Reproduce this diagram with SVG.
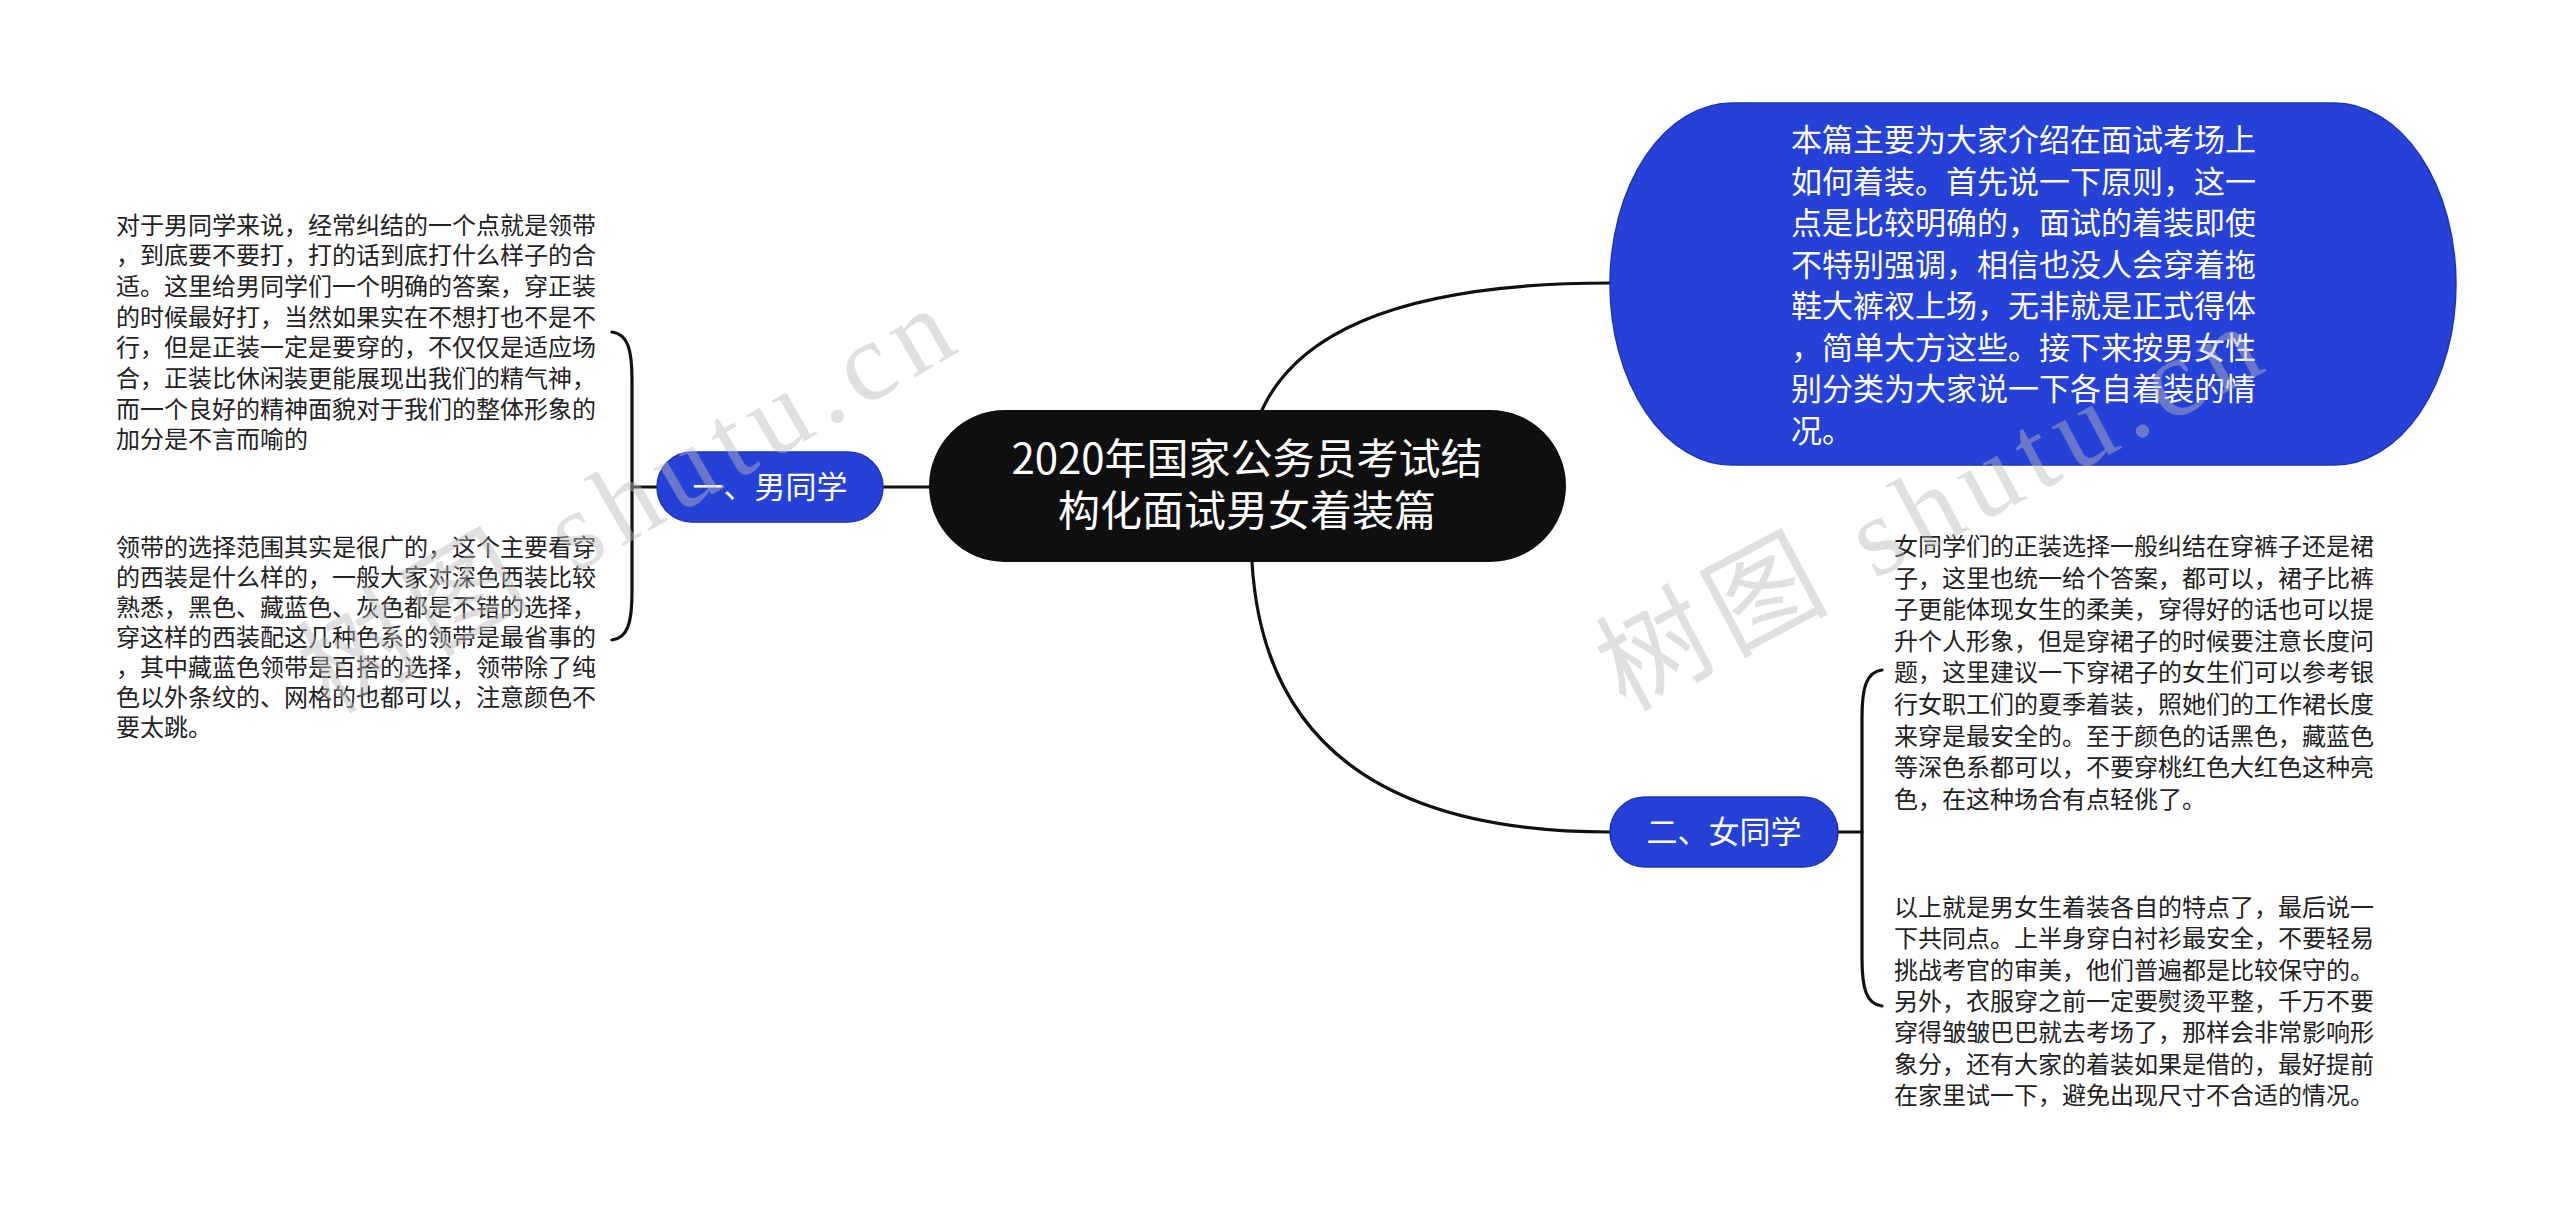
<svg xmlns="http://www.w3.org/2000/svg" width="2560" height="1219" viewBox="0 0 2560 1219">
<style>
.conn{fill:none;stroke:#111;stroke-width:3.2;stroke-linecap:round}
.blue{fill:#2541d8;stroke:#1d34b8;stroke-width:1.5}
.cjk{font-family:"Noto Sans CJK SC","Noto Sans",sans-serif}
.leaf{font-size:24px;fill:#222}
.wt{fill:#fff}
.wm{font-family:"Liberation Serif","Noto Sans CJK SC",serif;font-size:112px;fill:#bbb;fill-opacity:0.45;letter-spacing:10px}
</style>
<rect width="2560" height="1219" fill="#fff"/>
<g id="connectors">
<path class="conn" d="M1262,410 Q1320,283 1610,283"/>
<path class="conn" d="M1252,562 Q1268,832 1610,832"/>
<path class="conn" d="M929,487 L883,487"/>
<path class="conn" d="M657,487 L632,487"/>
<path class="conn" d="M612,332 C628,334 632,350 632,380 L632,592 C632,622 628,638 612,640"/>
<path class="conn" d="M1838,832 L1862,832"/>
<path class="conn" d="M1882,670 C1866,672 1862,688 1862,718 L1862,958 C1862,988 1866,1004 1882,1006"/>
</g>
<g id="root">
<rect x="929" y="410" width="637" height="152" rx="76" ry="76" fill="#0f0f0f"/>
<text class="cjk wt" font-size="42" text-anchor="middle"><tspan x="1247" y="474">2020年国家公务员考试结</tspan><tspan x="1247" y="526">构化面试男女着装篇</tspan></text>
</g>
<g id="intro">
<rect class="blue" x="1610" y="103" width="846" height="362" rx="122" ry="181"/>
<text class="cjk wt" font-size="31"><tspan x="1791" y="151">本篇主要为大家介绍在面试考场上</tspan><tspan x="1791" y="192.5">如何着装。首先说一下原则，这一</tspan><tspan x="1791" y="234">点是比较明确的，面试的着装即使</tspan><tspan x="1791" y="275.5">不特别强调，相信也没人会穿着拖</tspan><tspan x="1791" y="317">鞋大裤衩上场，无非就是正式得体</tspan><tspan x="1791" y="358.5">，简单大方这些。接下来按男女性</tspan><tspan x="1791" y="400">别分类为大家说一下各自着装的情</tspan><tspan x="1791" y="441.5">况。</tspan></text>
</g>
<g id="male">
<rect class="blue" x="657" y="452" width="226" height="70" rx="35" ry="35"/>
<text class="cjk wt" font-size="31" text-anchor="middle" x="770" y="498">一、男同学</text>
</g>
<g id="male-1">
<text class="cjk leaf"><tspan x="116" y="233.5">对于男同学来说，经常纠结的一个点就是领带</tspan><tspan x="116" y="264.2">，到底要不要打，打的话到底打什么样子的合</tspan><tspan x="116" y="294.9">适。这里给男同学们一个明确的答案，穿正装</tspan><tspan x="116" y="325.6">的时候最好打，当然如果实在不想打也不是不</tspan><tspan x="116" y="356.3">行，但是正装一定是要穿的，不仅仅是适应场</tspan><tspan x="116" y="387">合，正装比休闲装更能展现出我们的精气神，</tspan><tspan x="116" y="417.7">而一个良好的精神面貌对于我们的整体形象的</tspan><tspan x="116" y="448.4">加分是不言而喻的</tspan></text>
</g>
<g id="male-2">
<text class="cjk leaf"><tspan x="116" y="555.5">领带的选择范围其实是很广的，这个主要看穿</tspan><tspan x="116" y="585.5">的西装是什么样的，一般大家对深色西装比较</tspan><tspan x="116" y="615.5">熟悉，黑色、藏蓝色、灰色都是不错的选择，</tspan><tspan x="116" y="645.5">穿这样的西装配这几种色系的领带是最省事的</tspan><tspan x="116" y="675.5">，其中藏蓝色领带是百搭的选择，领带除了纯</tspan><tspan x="116" y="705.5">色以外条纹的、网格的也都可以，注意颜色不</tspan><tspan x="116" y="735.5">要太跳。</tspan></text>
</g>
<g id="female">
<rect class="blue" x="1610" y="797" width="228" height="70" rx="35" ry="35"/>
<text class="cjk wt" font-size="31" text-anchor="middle" x="1724" y="843">二、女同学</text>
</g>
<g id="female-1">
<text class="cjk leaf"><tspan x="1894" y="555">女同学们的正装选择一般纠结在穿裤子还是裙</tspan><tspan x="1894" y="586.6">子，这里也统一给个答案，都可以，裙子比裤</tspan><tspan x="1894" y="618.2">子更能体现女生的柔美，穿得好的话也可以提</tspan><tspan x="1894" y="649.8">升个人形象，但是穿裙子的时候要注意长度问</tspan><tspan x="1894" y="681.4">题，这里建议一下穿裙子的女生们可以参考银</tspan><tspan x="1894" y="713">行女职工们的夏季着装，照她们的工作裙长度</tspan><tspan x="1894" y="744.6">来穿是最安全的。至于颜色的话黑色，藏蓝色</tspan><tspan x="1894" y="776.2">等深色系都可以，不要穿桃红色大红色这种亮</tspan><tspan x="1894" y="807.8">色，在这种场合有点轻佻了。</tspan></text>
</g>
<g id="female-2">
<text class="cjk leaf"><tspan x="1894" y="916">以上就是男女生着装各自的特点了，最后说一</tspan><tspan x="1894" y="947.3">下共同点。上半身穿白衬衫最安全，不要轻易</tspan><tspan x="1894" y="978.6">挑战考官的审美，他们普遍都是比较保守的。</tspan><tspan x="1894" y="1009.9">另外，衣服穿之前一定要熨烫平整，千万不要</tspan><tspan x="1894" y="1041.2">穿得皱皱巴巴就去考场了，那样会非常影响形</tspan><tspan x="1894" y="1072.5">象分，还有大家的着装如果是借的，最好提前</tspan><tspan x="1894" y="1103.8">在家里试一下，避免出现尺寸不合适的情况。</tspan></text>
</g>
<g id="watermark">
<text class="wm" x="330" y="715" transform="rotate(-30 330 715)">树图 shutu.cn</text>
<text class="wm" x="1625" y="712" transform="rotate(-28 1625 712)">树图 shutu.cn</text>
</g>
</svg>
